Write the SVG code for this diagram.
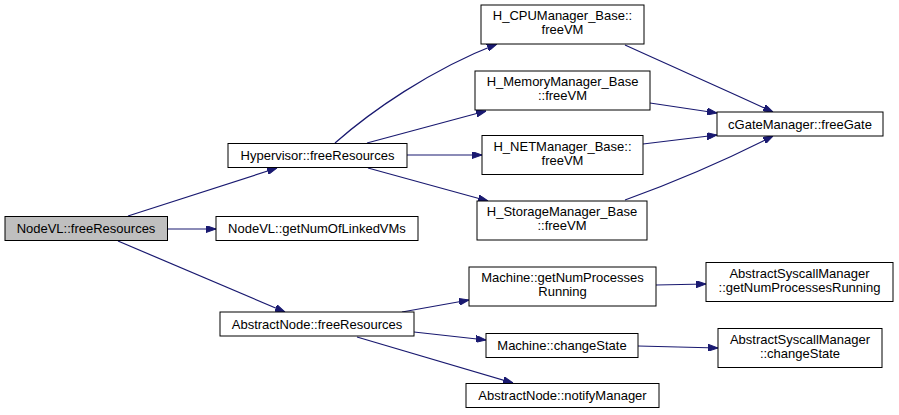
<svg xmlns="http://www.w3.org/2000/svg" width="899" height="415" viewBox="0 0 899 415">
<defs>
<style>
.n rect{fill:#fff;stroke:#000;stroke-width:1}
.n.root rect{fill:#bfbfbf}
.n text{font-family:"Liberation Sans",Arial,sans-serif;font-size:13px;fill:#000;text-anchor:middle}
.e path{fill:none;stroke:#191970;stroke-width:1.2;marker-end:url(#ah)}
</style>
<marker id="ah" viewBox="0 0 10 7" refX="10" refY="3.5" markerWidth="10" markerHeight="7" markerUnits="userSpaceOnUse" orient="auto">
<path d="M0,0 L10,3.5 L0,7 Z" fill="#191970" stroke="#191970" stroke-width="1"/>
</marker>
</defs>
<rect width="899" height="415" fill="#fff"/>
<g id="edges" class="e">
<path d="M128,216 L277,168"/>
<path d="M168,229 L216,229"/>
<path d="M118,241 L285,312"/>
<path d="M335,143 C370,112 430,70 497,44"/>
<path d="M367,143 L486,111"/>
<path d="M407,155 L482,155"/>
<path d="M368,168 L488,201"/>
<path d="M625,45 C680,70 730,92 773,112"/>
<path d="M650,103 L717,113"/>
<path d="M643,144 L717,135"/>
<path d="M625,200 C680,180 730,158 773,136"/>
<path d="M402,312 L469,300"/>
<path d="M414,332 L486,340"/>
<path d="M357,337 L513,383"/>
<path d="M656,285 L706,284"/>
<path d="M638,346 L718,348"/>
</g>
<g id="nodevl_freeResources" class="n root"><rect x="5" y="216.5" width="162.5" height="24"/><text x="86" y="233">NodeVL::freeResources</text></g>
<g id="hypervisor_freeResources" class="n"><rect x="228" y="143.5" width="179" height="24"/><text x="317.5" y="160">Hypervisor::freeResources</text></g>
<g id="nodevl_getNumOfLinkedVMs" class="n"><rect x="216" y="216.5" width="202" height="24"/><text x="317" y="233">NodeVL::getNumOfLinkedVMs</text></g>
<g id="abstractnode_freeResources" class="n"><rect x="220" y="312" width="194" height="24"/><text x="317" y="328.5">AbstractNode::freeResources</text></g>
<g id="cpu_freeVM" class="n"><rect x="481" y="5" width="163" height="39"/><text x="562.5" y="20">H_CPUManager_Base::</text><text x="562.5" y="34">freeVM</text></g>
<g id="memory_freeVM" class="n"><rect x="475" y="71" width="175" height="39"/><text x="562.5" y="86">H_MemoryManager_Base</text><text x="562.5" y="100">::freeVM</text></g>
<g id="net_freeVM" class="n"><rect x="482" y="135.5" width="161" height="39"/><text x="562.5" y="150.5">H_NETManager_Base::</text><text x="562.5" y="164.5">freeVM</text></g>
<g id="storage_freeVM" class="n"><rect x="477" y="201" width="170" height="39"/><text x="562" y="216">H_StorageManager_Base</text><text x="562" y="230">::freeVM</text></g>
<g id="cgate_freeGate" class="n"><rect x="717" y="112" width="166" height="24"/><text x="800" y="128.5">cGateManager::freeGate</text></g>
<g id="machine_getNumProcessesRunning" class="n"><rect x="469" y="267" width="187" height="39"/><text x="562.5" y="282">Machine::getNumProcesses</text><text x="562.5" y="296">Running</text></g>
<g id="machine_changeState" class="n"><rect x="486" y="333.5" width="152" height="24"/><text x="562" y="350">Machine::changeState</text></g>
<g id="abstractnode_notifyManager" class="n"><rect x="466" y="383.5" width="193" height="24"/><text x="562.5" y="400">AbstractNode::notifyManager</text></g>
<g id="asm_getNumProcessesRunning" class="n"><rect x="706" y="262.5" width="187" height="39"/><text x="799.5" y="277.5">AbstractSyscallManager</text><text x="799.5" y="291.5">::getNumProcessesRunning</text></g>
<g id="asm_changeState" class="n"><rect x="718" y="328.5" width="164" height="39"/><text x="800" y="343.5">AbstractSyscallManager</text><text x="800" y="357.5">::changeState</text></g>
</svg>
